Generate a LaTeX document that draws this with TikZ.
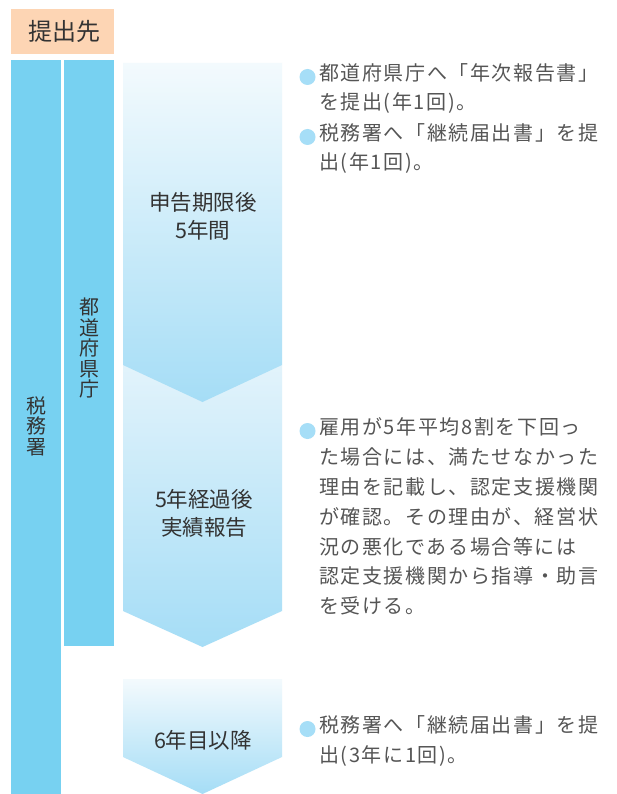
\documentclass[tikz,border=0pt]{standalone}
\usepackage{fontspec}
\setmainfont{Noto Sans CJK JP}
\newfontfamily\bodyfont{Noto Sans CJK JP}[LetterSpace=8]
\definecolor{colblue}{HTML}{77D1F1}
\definecolor{peach}{HTML}{FDD5B4}
\definecolor{arrtop}{HTML}{F3FAFD}
\definecolor{arrmid}{HTML}{E2F3FB}
\definecolor{arrbot}{HTML}{A5DDF6}
\definecolor{bulletblue}{HTML}{A6DEF7}
\definecolor{txt}{HTML}{333333}
\definecolor{bodytxt}{HTML}{555555}
\begin{document}
\begin{tikzpicture}[x=1pt,y=-1pt,
  colbox/.style={fill=colblue,draw=none},
  vlabel/.style={text=txt,inner sep=0,align=center,font=\fontsize{20}{20.5}\selectfont},
  arrlabel/.style={text=txt,inner sep=0,align=center,font=\fontsize{21.5}{28}\selectfont},
  bodyline/.style={anchor=west,inner sep=0,text=bodytxt,text height=0.88em,text depth=0.12em,font=\bodyfont\fontsize{20}{24}\selectfont},
  bulletdot/.style={circle,fill=bulletblue,draw=none,minimum size=16pt,inner sep=0}]
\useasboundingbox (0,0) rectangle (617,794);
\fill[white] (0,0) rectangle (617,794);
% header
\fill[peach] (11,9) rectangle (114,54.5);
\node[text=txt,inner sep=0,font=\fontsize{24}{24}\selectfont] (head) at (64,31) {提出先};
% columns
\fill[colblue] (11,60) rectangle (61,794);
\fill[colblue] (64,60) rectangle (114,646);
\node[vlabel] (zeimu) at (37,426) {税\\務\\署};
\node[vlabel] (todo) at (89.5,348) {都\\道\\府\\県\\庁};
% arrows
\shade[top color=arrmid,bottom color=arrbot] (123,365) -- (282,365) -- (282,611) -- (202.5,647) -- (123,611) -- cycle;
\shade[top color=arrtop,bottom color=arrbot] (123,63) -- (282,63) -- (282,365) -- (202.5,402) -- (123,365) -- cycle;
\shade[top color=arrtop,bottom color=arrbot] (123,679) -- (282,679) -- (282,757) -- (202.5,794) -- (123,757) -- cycle;
\node[arrlabel] (a1) at (203,216) {申告期限後\\5年間};
\node[arrlabel] (a2) at (204,513) {5年経過後\\実績報告};
\node[arrlabel] (a3) at (203,740) {6年目以降};
% bullets
\node[bulletdot] (b1) at (307.5,77) {};
\node[bulletdot] (b2) at (307.5,137) {};
\node[bulletdot] (b3) at (307.5,431) {};
\node[bulletdot] (b4) at (307.5,729) {};
% texts
\node[bodyline] (t1) at (319,77) {都道府県庁へ「年次報告書」};
\node[bodyline] (t2) at (319,106) {を提出(年1回)。};
\node[bodyline] (t3) at (319,137) {税務署へ「継続届出書」を提};
\node[bodyline] (t4) at (319,166) {出(年1回)。};
\node[bodyline] (u1) at (319,431) {雇用が5年平均8割を下回っ};
\node[bodyline] (u2) at (319,460.8) {た場合には、満たせなかった};
\node[bodyline] (u3) at (319,490.6) {理由を記載し、認定支援機関};
\node[bodyline] (u4) at (319,520.4) {が確認。その理由が、経営状};
\node[bodyline] (u5) at (319,550.2) {況の悪化である場合等には};
\node[bodyline] (u6) at (319,580) {認定支援機関から指導・助言};
\node[bodyline] (u7) at (319,609.8) {を受ける。};
\node[bodyline] (v1) at (319,729) {税務署へ「継続届出書」を提};
\node[bodyline] (v2) at (319,758.5) {出(3年に1回)。};
\end{tikzpicture}
\end{document}
